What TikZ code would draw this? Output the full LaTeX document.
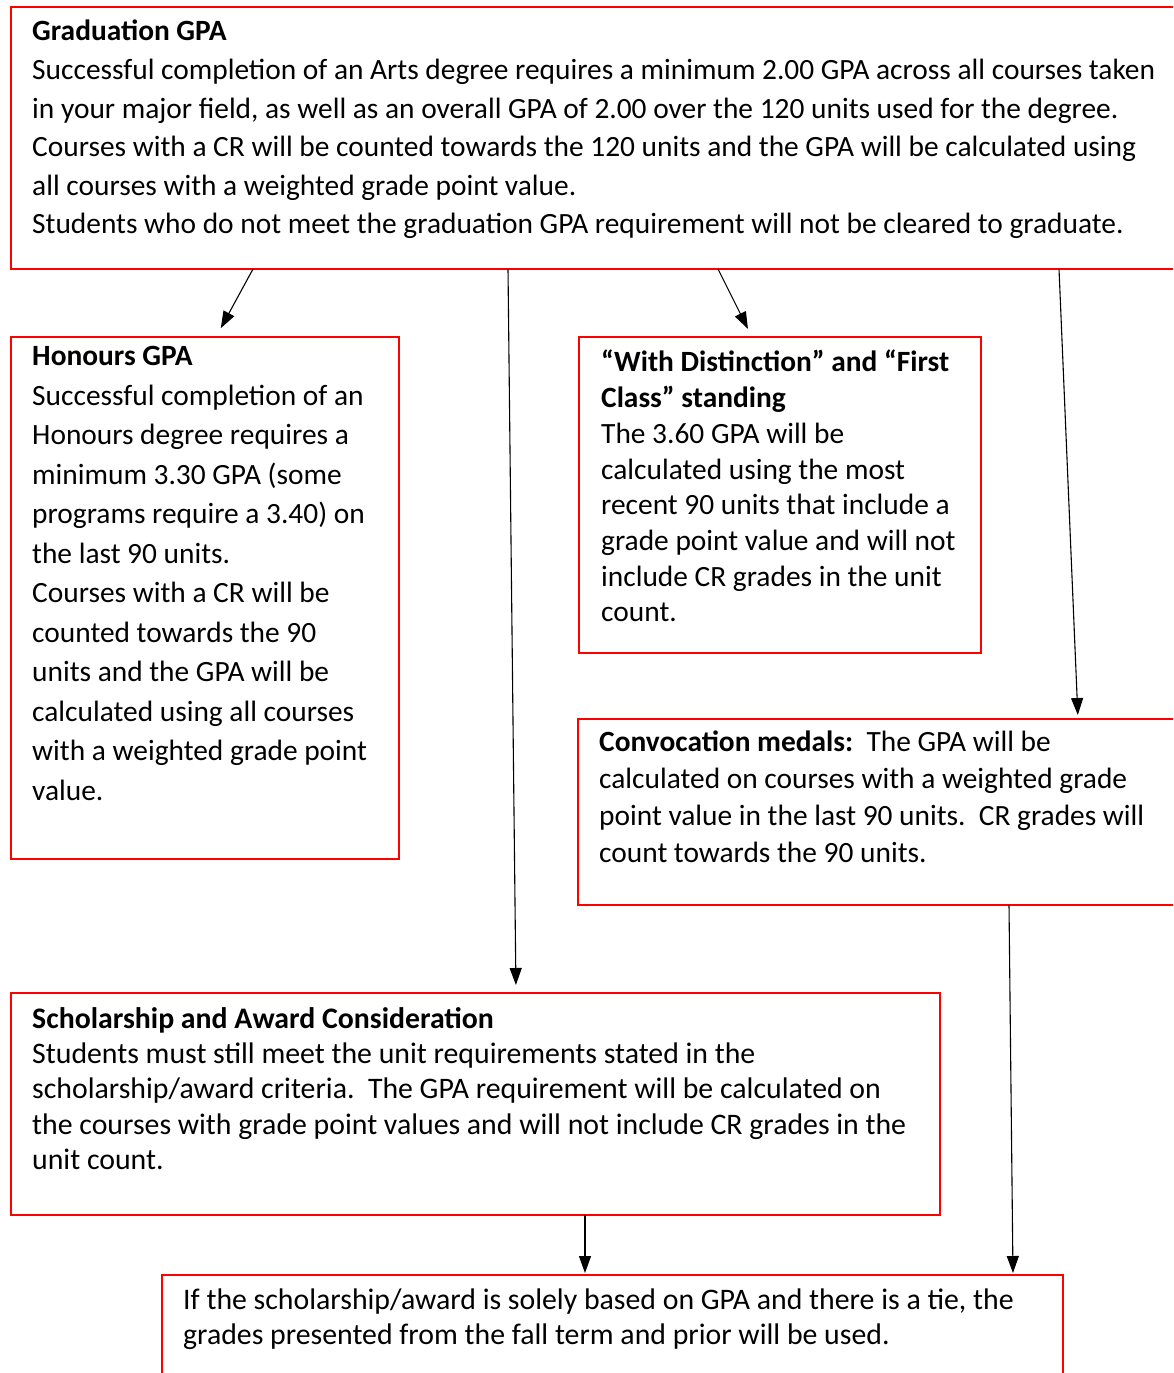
\documentclass[tikz,border=0pt]{standalone}
\usepackage{fontspec}
\setmainfont{Carlito}
\usetikzlibrary{arrows.meta,positioning}
\tikzset{
  panel/.style = {draw=red, line width=2.5pt, rectangle, anchor=north west, inner sep=0pt, outer sep=0pt},
  txt/.style   = {align=left, inner sep=0pt, font=\fontsize{29.4}{#1}\selectfont, execute at begin node=\strut},
  link/.style  = {-{Triangle[length=17pt,width=12pt]}, line width=1.1pt, black}
}

\begin{document}
\begin{tikzpicture}[x=1pt,y=-1pt]
\useasboundingbox (0,0) rectangle (1173,1373);
\clip (0,0) rectangle (1173,1373);
% boxes
\node[panel, minimum width=1180pt, minimum height=262pt] (grad) at (11,7) {};
\node[panel, minimum width=388pt, minimum height=522pt] (hons) at (11,337) {};
\node[panel, minimum width=402pt, minimum height=316pt] (dist) at (579,337) {};
\node[panel, minimum width=610pt, minimum height=186pt] (conv) at (578,719) {};
\node[panel, minimum width=929pt, minimum height=222pt] (schol) at (11,993) {};
\node[panel, minimum width=901pt, minimum height=140pt] (tie) at (162,1275) {};
% texts
\node[below right=13pt and 21pt of grad.north west, txt=38.6] (gradtxt) {\textbf{Graduation GPA}\\
Successful completion of an Arts degree requires a minimum 2.00 GPA across all courses taken\\
in your major field, as well as an overall GPA of 2.00 over the 120 units used for the degree.\\
Courses with a CR will be counted towards the 120 units and the GPA will be calculated using\\
all courses with a weighted grade point value.\\
Students who do not meet the graduation GPA requirement will not be cleared to graduate.};
\node[below right=9.5pt and 21pt of hons.north west, txt=39.5] (honstxt) {\textbf{Honours GPA}\\
Successful completion of an\\
Honours degree requires a\\
minimum 3.30 GPA (some\\
programs require a 3.40) on\\
the last 90 units.\\
Courses with a CR will be\\
counted towards the 90\\
units and the GPA will be\\
calculated using all courses\\
with a weighted grade point\\
value.};
\node[below right=13pt and 22pt of dist.north west, txt=35.7] (disttxt) {\textbf{“With Distinction” and “First}\\
\textbf{Class” standing}\\
The 3.60 GPA will be\\
calculated using the most\\
recent 90 units that include a\\
grade point value and will not\\
include CR grades in the unit\\
count.};
\node[below right=12pt and 21pt of conv.north west, txt=37] (convtxt) {\textbf{Convocation medals:}\ \ The GPA will be\\
calculated on courses with a weighted grade\\
point value in the last 90 units.\ \ CR grades will\\
count towards the 90 units.};
\node[below right=14pt and 21pt of schol.north west, txt=35.3, font=\fontsize{29.8}{35.3}\selectfont] (scholtxt) {\textbf{Scholarship and Award Consideration}\\
Students must still meet the unit requirements stated in the\\
scholarship/award criteria.\ \ The GPA requirement will be calculated on\\
the courses with grade point values and will not include CR grades in the\\
unit count.};
\node[below right=13.5pt and 21pt of tie.north west, txt=35, font=\fontsize{29.8}{35}\selectfont] (tietxt) {If the scholarship/award is solely based on GPA and there is a tie, the\\
grades presented from the fall term and prior will be used.};
% arrows
\draw[link, shorten >=10pt] (253,0 |- grad.south) -- (216,0 |- hons.north);
\draw[link, shorten >=8pt] (508,0 |- grad.south) -- (516,0 |- schol.north);
\draw[link, shorten >=9pt] (718,0 |- grad.south) -- (752,0 |- dist.north);
\draw[link, shorten >=4pt] (1059,0 |- grad.south) -- (1078,0 |- conv.north);
\draw[link, shorten >=2pt] (585,0 |- schol.south) -- (585,0 |- tie.north);
\draw[link, shorten >=2pt] (1009,0 |- conv.south) -- (1013,0 |- tie.north);
\end{tikzpicture}
\end{document}
